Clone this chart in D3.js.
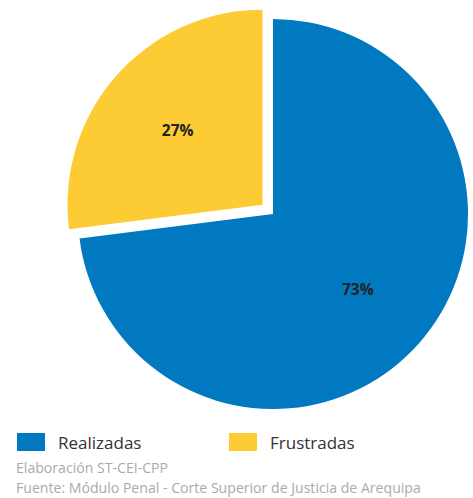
<!DOCTYPE html>
<html><head><meta charset="utf-8">
<script src="https://cdn.jsdelivr.net/npm/d3@7"></script>
<style>body{margin:0;background:#fff}svg{display:block}</style>
</head><body>
<svg id="c" width="473" height="498"></svg>
<script>
const categories = ["Realizadas", "Frustradas"];
const values = [73, 27];
const colors = ["#0079C1", "#FDCB33"];
const sourceLines = ["Elaboración ST-CEI-CPP", "Fuente: Módulo Penal - Corte Superior de Justicia de Arequipa"];

const svg = d3.select("#c");
const cx = 273, cy = 214, r = 195, explode = 14;
const pie = d3.pie().sort(null).value(d => d)(values);
const arc = d3.arc().innerRadius(0).outerRadius(r);
const labelArc = d3.arc().innerRadius(r*0.58).outerRadius(r*0.58);
const font = "'Open Sans', 'Noto Sans', sans-serif";

const g = svg.append("g").attr("transform", `translate(${cx},${cy})`);
pie.forEach((p, i) => {
  const mid = (p.startAngle + p.endAngle) / 2;
  const off = i === 1 ? explode : 0;
  const dx = Math.sin(mid) * off, dy = -Math.cos(mid) * off;
  const sg = g.append("g").attr("transform", `translate(${dx},${dy})`);
  sg.append("path").attr("d", arc(p)).attr("fill", colors[i]);
  const c = labelArc.centroid(p);
  sg.append("text").attr("x", c[0]).attr("y", c[1]).attr("dy", "0.4em")
    .attr("text-anchor", "middle").attr("font-family", font).attr("font-weight", "bold")
    .attr("font-size", 15.5).attr("fill", "#222").text(values[i] + "%");
});

const legX = [17, 229];
categories.forEach((c, i) => {
  svg.append("rect").attr("x", legX[i]).attr("y", 433).attr("width", 28).attr("height", 18).attr("fill", colors[i]);
  svg.append("text").attr("x", legX[i] + 41).attr("y", 449).attr("font-family", font)
    .attr("font-size", 17).attr("fill", "#333").text(c);
});
sourceLines.forEach((t, i) => {
  svg.append("text").attr("x", 16).attr("y", 473 + i*20).attr("font-family", font)
    .attr("font-size", 14.1).attr("fill", "#aaa").text(t);
});
</script>
</body></html>
